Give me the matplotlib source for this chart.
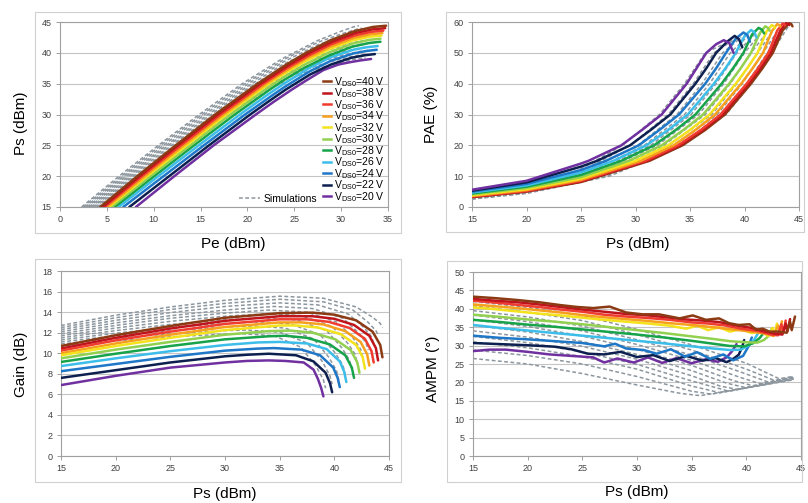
import matplotlib
matplotlib.use('Agg')
import matplotlib.pyplot as plt
from matplotlib.lines import Line2D
from matplotlib.patches import Rectangle

plt.rcParams['font.family'] = ['Liberation Sans', 'DejaVu Sans']
plt.rcParams['mathtext.fontset'] = 'custom'
plt.rcParams['mathtext.rm'] = 'Liberation Sans'

W, H = 808, 503

volts = [40, 38, 36, 34, 32, 30, 28, 26, 24, 22, 20]
colors = ['#8b3a13', '#c0141c', '#ef3b30', '#f6a01e', '#f3e21c', '#92d050',
          '#17a349', '#3dbdea', '#1f77c8', '#0c1f4f', '#7030a0']
sim_color = '#8c969e'

# ---- Gain vs Ps (measured), 40 V -> 20 V ----
gain_ps = [
    [15, 20, 25, 30, 35, 38, 40, 42, 43.5, 44.2, 44.4],
    [15, 20, 25, 30, 35, 38, 40, 41.8, 43.2, 43.8, 44.0],
    [15, 20, 25, 30, 35, 37.5, 39.5, 41.4, 42.8, 43.4, 43.6],
    [15, 20, 25, 30, 35, 37, 39, 41, 42.4, 43.0, 43.2],
    [15, 20, 25, 30, 35, 36.5, 38.5, 40.6, 42.0, 42.6, 42.8],
    [15, 20, 25, 30, 34, 36, 38, 40.1, 41.5, 42.1, 42.3],
    [15, 20, 25, 30, 34, 35.5, 37.5, 39.6, 41.0, 41.6, 41.8],
    [15, 20, 25, 30, 33, 35, 37.5, 39.3, 40.5, 40.9, 41.1],
    [15, 20, 25, 30, 33, 34.5, 37, 38.7, 39.9, 40.3, 40.5],
    [15, 20, 25, 30, 32, 34, 36.5, 38.1, 39.2, 39.6, 39.8],
    [15, 20, 25, 30, 32, 34, 35.5, 37.2, 38.1, 38.5, 38.8, 39.0],
]
gain_db = [
    [10.7, 11.75, 12.65, 13.45, 13.9, 13.95, 13.75, 13.2, 12.1, 10.8, 9.6],
    [10.45, 11.5, 12.4, 13.15, 13.6, 13.6, 13.35, 12.75, 11.7, 10.5, 9.3],
    [10.25, 11.25, 12.1, 12.85, 13.3, 13.3, 13.05, 12.45, 11.4, 10.2, 9.1],
    [10.0, 10.95, 11.8, 12.55, 13.0, 13.0, 12.8, 12.15, 11.1, 9.9, 8.8],
    [9.8, 10.7, 11.5, 12.25, 12.7, 12.7, 12.5, 11.85, 10.8, 9.6, 8.5],
    [9.5, 10.35, 11.1, 11.8, 12.15, 12.2, 12.0, 11.35, 10.3, 9.1, 8.1],
    [9.15, 9.95, 10.7, 11.35, 11.65, 11.7, 11.5, 10.85, 9.8, 8.6, 7.6],
    [8.75, 9.5, 10.2, 10.8, 11.05, 11.1, 10.95, 10.4, 9.2, 8.2, 7.2],
    [8.25, 8.95, 9.65, 10.25, 10.45, 10.5, 10.35, 9.8, 8.6, 7.6, 6.7],
    [7.6, 8.35, 9.1, 9.7, 9.85, 9.95, 9.8, 9.2, 8.1, 7.1, 6.2],
    [6.9, 7.8, 8.6, 9.1, 9.25, 9.3, 9.25, 9.1, 8.4, 7.5, 6.6, 5.8],
]

# ---- Gain vs Ps (simulations) ----
sim_gain_ps = [
    [15, 20, 25, 30, 35, 39, 42, 43.5, 44.2, 44.4],
    [15, 20, 25, 30, 35, 39, 41.7, 43.1, 43.8, 44.0],
    [15, 20, 25, 30, 35, 38.5, 41.3, 42.7, 43.4, 43.6],
    [15, 20, 25, 30, 34.5, 38, 40.8, 42.2, 42.9, 43.1],
    [15, 20, 25, 30, 34, 37.5, 40.3, 41.7, 42.4, 42.6],
    [15, 20, 25, 30, 34, 37, 39.8, 41.2, 41.9, 42.1],
    [15, 20, 25, 30, 33.5, 36.5, 39.3, 40.7, 41.4, 41.6],
    [15, 20, 25, 30, 33, 36, 38.7, 40.1, 40.8, 41.0],
    [15, 20, 25, 30, 32.5, 35.5, 38.1, 39.5, 40.2, 40.4],
    [15, 20, 25, 30, 32, 35, 37.5, 38.9, 39.6, 39.8],
    [15, 20, 25, 30, 31.5, 34.5, 36.9, 38.3, 39.0, 39.2],
]
sim_gain_db = [
    [12.7, 13.7, 14.5, 15.15, 15.55, 15.35, 14.5, 13.5, 12.9, 12.5],
    [12.5, 13.45, 14.25, 14.85, 15.25, 15.0, 14.2, 13.0, 12.2, 11.8],
    [12.3, 13.2, 13.95, 14.55, 14.9, 14.7, 13.8, 12.5, 11.6, 11.0],
    [12.1, 12.95, 13.65, 14.2, 14.55, 14.35, 13.4, 12.0, 11.0, 10.3],
    [11.9, 12.7, 13.4, 13.9, 14.2, 14.0, 13.0, 11.5, 10.4, 9.6],
    [11.7, 12.45, 13.1, 13.6, 13.85, 13.65, 12.6, 11.0, 9.9, 9.0],
    [11.5, 12.2, 12.8, 13.25, 13.45, 13.25, 12.2, 10.5, 9.3, 8.4],
    [11.3, 11.95, 12.5, 12.9, 13.05, 12.85, 11.8, 10.0, 8.8, 7.9],
    [11.1, 11.7, 12.2, 12.55, 12.65, 12.45, 11.4, 9.6, 8.3, 7.4],
    [10.9, 11.45, 11.9, 12.2, 12.25, 12.05, 11.0, 9.2, 7.8, 7.0],
    [10.7, 11.2, 11.6, 11.85, 11.9, 11.7, 10.6, 8.8, 7.4, 6.6],
]

# ---- PAE vs Ps (measured): PAE at fixed Ps, Ps at fixed PAE levels, top hook ----
pae_at15 = [3.2, 3.3, 3.4, 3.6, 3.8, 4.1, 4.4, 4.7, 5.0, 5.3, 5.6]
pae_at20 = [5.0, 5.1, 5.2, 5.5, 5.8, 6.2, 6.6, 7.0, 7.5, 8.0, 8.5]
pae_at25 = [8.1, 8.3, 8.5, 8.8, 9.2, 9.7, 10.4, 11.2, 12.0, 13.1, 14.1]
pae_levels = [15, 20, 25, 30, 40, 45, 50]
ps_at_level = [
    [31.3, 31.1, 30.9, 30.5, 30.0, 29.4, 28.7, 28.0, 27.3, 26.5, 25.7],
    [34.3, 34.1, 33.9, 33.5, 33.0, 32.4, 31.7, 31.0, 30.3, 29.5, 28.7],
    [36.4, 36.2, 36.0, 35.5, 35.0, 34.4, 33.7, 33.0, 32.2, 31.4, 30.6],
    [38.2, 38.0, 37.8, 37.3, 36.8, 36.2, 35.5, 34.8, 34.0, 33.2, 32.4],
    [40.6, 40.4, 40.2, 39.7, 39.2, 38.6, 37.9, 37.2, 36.4, 35.5, 34.7],
    [41.65, 41.45, 41.25, 40.75, 40.25, 39.65, 38.95, 38.25, 37.4, 36.5, 35.6],
    [42.6, 42.4, 42.2, 41.7, 41.2, 40.6, 39.9, 39.2, 38.3, 37.4, 36.5],
]
pre_ps = [43.5, 43.3, 43.0, 42.5, 42.0, 41.4, 40.7, 40.0, 39.2, 38.4, 37.4]
pre_pae = [57.3, 57.3, 57.2, 57.0, 56.8, 56.4, 56.0, 55.4, 54.6, 53.6, 52.8]
peak_ps = [44.1, 43.8, 43.5, 43.0, 42.5, 41.9, 41.3, 40.6, 39.9, 39.1, 38.1]
peak_pae = [59.6, 59.6, 59.5, 59.3, 59.0, 58.6, 58.1, 57.4, 56.6, 55.5, 54.1]
hook_ps = [44.3, 44.0, 43.65, 43.2, 42.7, 42.15, 41.6, 40.9, 40.25, 39.5, 38.6]
hook_pae = [59.3, 59.4, 59.3, 59.0, 58.6, 58.1, 57.5, 56.7, 55.8, 54.4, 53.2]
end_ps = [44.4, 44.1, 43.7, 43.3, 42.8, 42.3, 41.8, 41.1, 40.5, 39.8, 39.0]
end_pae = [58.6, 59.0, 58.9, 58.5, 58.0, 57.2, 56.3, 55.0, 53.6, 51.8, 50.0]

# ---- PAE vs Ps (simulations) ----
sim_pae_at15 = [2.6, 2.6, 2.7, 2.7, 2.8, 2.8, 2.9, 2.9, 3.0, 3.0, 3.1]
sim_pae_at20 = [4.4, 4.5, 4.6, 4.7, 4.8, 4.9, 5.0, 5.1, 5.2, 5.3, 5.4]
sim_levels = [10, 20, 30, 40, 50]
sim_ps_at_level = [
    [27.6, 27.3, 27.0, 26.6, 26.2, 25.8, 25.4, 25.0, 24.6, 24.2, 23.8],
    [34.4, 34.0, 33.6, 33.1, 32.6, 32.0, 31.4, 30.8, 30.2, 29.5, 28.8],
    [38.3, 37.9, 37.5, 37.0, 36.4, 35.8, 35.1, 34.5, 33.8, 33.0, 32.2],
    [40.6, 40.2, 39.8, 39.3, 38.7, 38.1, 37.4, 36.8, 36.1, 35.3, 34.5],
    [42.5, 42.1, 41.7, 41.2, 40.6, 40.0, 39.3, 38.7, 38.0, 37.2, 36.4],
]
sim_top_ps = [44.0, 43.6, 43.2, 42.7, 42.2, 41.6, 41.0, 40.4, 39.7, 38.9, 37.9]
sim_top_pae = [58.5, 58.3, 58.0, 57.6, 57.2, 56.8, 56.3, 55.7, 55.0, 54.0, 52.5]

# ---- AMPM vs Ps (measured) ----
ampm_ps = [
    [15, 17, 19, 21, 23, 24.5, 26, 27.5, 29, 30.5, 32, 33.9, 35.1, 36.3, 37.5, 38.4, 39.3, 40.3, 40.9, 41.5, 42.1, 43.0, 43.7, 44.0, 44.15, 44.45],
    [15, 17, 19, 21, 23, 25, 27, 29, 31, 33, 34.5, 36, 37.5, 39, 40.5, 41.5, 42.5, 43.3, 43.6, 43.75, 44.0],
    [15, 17, 19, 21, 23, 25, 27, 29, 31, 33, 35, 36.5, 38, 39.5, 41, 42.3, 42.9, 43.2, 43.4, 43.6],
    [15, 17, 19, 21, 23, 25, 27, 29, 31, 33, 35, 37, 39, 40.5, 41.8, 42.5, 42.9, 43.1, 43.25],
    [15, 17, 19, 21, 23, 25, 27, 29, 31, 33, 34.5, 35.5, 36.5, 37.5, 38.5, 39.5, 40.5, 41.3, 42.0, 42.4, 42.6, 42.8],
    [15, 17.5, 20, 22.5, 25, 27.5, 30, 32.5, 35, 37, 38.5, 40, 41, 41.6, 42.0, 42.3],
    [15, 17.5, 20, 22.5, 25, 27.5, 30, 32.5, 35, 37, 38.5, 39.8, 40.6, 41.2, 41.8],
    [15, 17.5, 20, 22.5, 25, 27.5, 30, 32.5, 35, 37, 38.5, 39.5, 40.2, 40.7, 41.1],
    [15, 17.5, 20, 22.5, 25, 27, 28, 29, 30.6, 31.8, 33.1, 34.4, 35.5, 36.7, 37.9, 38.8, 39.7, 40.2, 40.5],
    [15, 17.5, 20, 22.5, 24, 25.5, 27, 28.5, 30, 31.5, 33, 34.5, 36, 37.2, 38.2, 38.8, 39.3, 39.6, 39.8],
    [15, 16.5, 18, 20, 22, 24, 26, 27, 28.2, 29.7, 31, 32.3, 33.6, 35, 36.3, 37.4, 38.2, 38.7, 39.1],
]
ampm_deg = [
    [43.3, 42.9, 42.4, 41.8, 41.0, 40.5, 40.2, 40.6, 39.0, 38.5, 38.5, 37.4, 38.2, 37.0, 37.4, 36.1, 35.6, 35.8, 34.3, 34.6, 33.8, 33.8, 33.5, 36.5, 34.2, 37.9],
    [42.7, 42.2, 41.8, 41.2, 40.5, 39.8, 39.2, 38.6, 38.2, 37.6, 37.1, 36.8, 36.4, 35.5, 34.8, 34.0, 33.3, 33.0, 36.0, 33.8, 37.2],
    [42.2, 41.7, 41.1, 40.5, 39.8, 39.2, 38.4, 37.9, 37.5, 37.0, 36.3, 36.0, 35.5, 34.6, 34.0, 33.0, 32.8, 35.8, 33.6, 36.8],
    [41.2, 40.7, 40.2, 39.6, 39.0, 38.3, 37.7, 37.2, 36.7, 36.1, 35.6, 35.0, 34.3, 33.8, 33.2, 32.6, 35.5, 33.4, 36.6],
    [40.4, 39.9, 39.3, 38.7, 38.2, 37.6, 37.0, 36.5, 36.0, 35.4, 34.6, 35.4, 34.2, 35.0, 33.8, 34.5, 33.4, 33.9, 32.6, 34.8, 33.0, 36.0],
    [38.4, 37.8, 37.1, 36.5, 35.8, 35.0, 34.2, 33.4, 32.5, 31.8, 31.2, 30.9, 30.8, 31.5, 32.5, 34.5],
    [37.0, 36.4, 35.7, 35.1, 34.4, 33.7, 33.0, 32.2, 31.3, 30.5, 29.9, 29.8, 30.6, 32.0, 34.2],
    [35.6, 34.8, 34.1, 33.4, 32.7, 32.0, 31.3, 30.6, 29.8, 29.2, 28.8, 28.9, 30.0, 31.5, 33.5],
    [32.7, 32.1, 31.7, 31.2, 30.7, 29.8, 30.5, 29.2, 28.8, 27.8, 29.0, 27.0, 28.2, 26.4, 27.6, 26.0, 27.2, 29.8, 32.2],
    [30.7, 30.4, 30.1, 29.7, 29.0, 27.8, 27.6, 28.3, 26.9, 27.4, 25.8, 27.2, 25.9, 26.6, 25.5, 26.4, 27.5, 29.5, 31.5],
    [28.5, 28.9, 28.9, 28.3, 27.6, 27.2, 26.8, 25.4, 26.5, 25.4, 26.8, 25.3, 26.6, 25.2, 26.3, 25.6, 26.8, 28.5, 30.4],
]

# ---- AMPM vs Ps (simulations) ----
sim_ampm_ps = [
    [15, 20, 25, 30, 35, 40, 43.0, 44.3],
    [15, 20, 25, 30, 35, 40, 42.6, 44.3],
    [15, 20, 25, 30, 35, 39.5, 42.0, 44.3],
    [15, 20, 25, 30, 35, 39.3, 41.3, 44.3],
    [15, 20, 25, 30, 35, 38.8, 40.6, 44.3],
    [15, 20, 25, 30, 35, 38.2, 39.9, 44.3],
    [15, 20, 25, 30, 35, 37.6, 39.2, 44.3],
    [15, 20, 25, 30, 35, 38.4, 44.3],
    [15, 20, 25, 30, 35, 37.6, 44.3],
    [15, 20, 25, 30, 35, 36.8, 44.3],
    [15, 20, 25, 30, 34, 35.8, 44.3],
]
sim_ampm_deg = [
    [42.0, 40.4, 38.2, 34.4, 30.2, 25.2, 21.0, 21.6],
    [40.8, 39.1, 36.8, 33.0, 28.8, 23.6, 20.5, 21.5],
    [39.5, 37.8, 35.3, 31.6, 27.4, 22.8, 20.1, 21.5],
    [38.3, 36.5, 34.0, 30.3, 26.0, 21.5, 19.6, 21.4],
    [37.0, 35.2, 32.6, 29.0, 24.6, 20.5, 19.1, 21.3],
    [35.5, 33.7, 31.1, 27.6, 23.2, 19.8, 18.6, 21.2],
    [34.0, 32.3, 29.8, 26.3, 21.8, 19.0, 18.1, 21.1],
    [32.5, 30.8, 28.3, 24.9, 20.4, 17.6, 21.0],
    [31.0, 29.4, 27.0, 23.6, 19.0, 17.2, 20.9],
    [28.8, 27.3, 25.0, 21.6, 17.6, 16.8, 20.8],
    [26.5, 25.0, 22.4, 19.3, 17.0, 16.4, 20.7],
]


def box(x0, y0, x1, y1):
    return [x0 / W, 1 - y1 / H, (x1 - x0) / W, (y1 - y0) / H]


def style(ax, xlim, xstep, ylim, ystep):
    ax.set_xlim(*xlim)
    ax.set_ylim(*ylim)
    ax.set_xticks(range(xlim[0], xlim[1] + 1, xstep))
    ax.set_yticks(range(ylim[0], ylim[1] + 1, ystep))
    ax.yaxis.grid(True, color='#c4c4c4', lw=0.8)
    ax.set_axisbelow(True)
    for s in ax.spines.values():
        s.set_color('#a0a0a0')
        s.set_linewidth(0.8)
    ax.tick_params(labelsize=6.5, labelcolor='#404040', color='#909090',
                   length=3, width=0.6, pad=3)


def sim_line(ax, x, y):
    ax.plot(x, y, color=sim_color, lw=1.1, dashes=(2.5, 1.6), zorder=2)


def meas_line(ax, x, y, c):
    ax.plot(x, y, color=c, lw=1.8, zorder=3, solid_capstyle='round')


fig = plt.figure(figsize=(W / 100, H / 100), dpi=100)

# chart-area frames
for b in [box(35, 12, 401, 233), box(446, 12, 804, 232),
          box(35, 259, 401, 482), box(447, 261, 802, 482)]:
    fig.add_artist(Rectangle((b[0], b[1]), b[2], b[3], transform=fig.transFigure,
                             fill=False, ec='#d0d0d0', lw=0.8))

ax1 = fig.add_axes(box(60, 22, 388, 207))
ax2 = fig.add_axes(box(472, 22, 799, 207))
ax3 = fig.add_axes(box(61, 271, 389, 456))
ax4 = fig.add_axes(box(473, 272, 801, 456))

# panel 1: Ps vs Pe, with Pe = Ps - Gain from the gain readings
for xs, gs in zip(sim_gain_ps, sim_gain_db):
    sim_line(ax1, [p - g for p, g in zip(xs, gs)], xs)
for i in range(len(volts) - 1, -1, -1):
    xs, gs = gain_ps[i], gain_db[i]
    meas_line(ax1, [p - g for p, g in zip(xs, gs)], xs, colors[i])
style(ax1, (0, 35), 5, (15, 45), 5)

h_v = [Line2D([], [], color=c, lw=1.8) for c in colors]
l_v = [r'V$_{\mathrm{DS0}}$=%d V' % v for v in volts]
leg1 = ax1.legend(h_v, l_v, loc='lower right', bbox_to_anchor=(1.0, 0.0),
                  frameon=False, fontsize=7.5, handlelength=0.8, handletextpad=0.3,
                  labelspacing=-0.22, borderpad=0.2, borderaxespad=0.1)
ax1.add_artist(leg1)
ax1.legend([Line2D([], [], color=sim_color, lw=1.1, dashes=(2.5, 1.6))], ['Simulations'],
           loc='lower right', bbox_to_anchor=(0.795, 0.0), frameon=False, fontsize=7.5,
           handlelength=2.0, handletextpad=0.4, borderpad=0.2, borderaxespad=0.1)

# panel 2: PAE vs Ps
for i in range(len(volts)):
    pts = [(15, sim_pae_at15[i]), (20, sim_pae_at20[i])]
    pts += [(sim_ps_at_level[k][i], lv) for k, lv in enumerate(sim_levels)]
    pts += [(sim_top_ps[i], sim_top_pae[i])]
    pts.sort()
    sim_line(ax2, [p[0] for p in pts], [p[1] for p in pts])
for i in range(len(volts)):
    pts = [(15, pae_at15[i]), (20, pae_at20[i]), (25, pae_at25[i])]
    pts += [(ps_at_level[k][i], lv) for k, lv in enumerate(pae_levels)]
    pts += [(pre_ps[i], pre_pae[i]), (peak_ps[i], peak_pae[i]),
            (hook_ps[i], hook_pae[i]), (end_ps[i], end_pae[i])]
    pts.sort()
    meas_line(ax2, [p[0] for p in pts], [p[1] for p in pts], colors[i])
style(ax2, (15, 45), 5, (0, 60), 10)

# panel 3: Gain vs Ps
for xs, gs in zip(sim_gain_ps, sim_gain_db):
    sim_line(ax3, xs, gs)
for i in range(len(volts)):
    meas_line(ax3, gain_ps[i], gain_db[i], colors[i])
style(ax3, (15, 45), 5, (0, 18), 2)

# panel 4: AMPM vs Ps
for xs, ds in zip(sim_ampm_ps, sim_ampm_deg):
    sim_line(ax4, xs, ds)
for i in range(len(volts) - 1, -1, -1):
    meas_line(ax4, ampm_ps[i], ampm_deg[i], colors[i])
style(ax4, (15, 45), 5, (0, 50), 5)

# axis titles
lab = dict(fontsize=11, ha='center', va='center')
fig.text(233 / W, 1 - 244 / H, 'Pe (dBm)', **lab)
fig.text(638 / W, 1 - 244 / H, 'Ps (dBm)', **lab)
fig.text(225 / W, 1 - 494 / H, 'Ps (dBm)', **lab)
fig.text(637 / W, 1 - 492 / H, 'Ps (dBm)', **lab)
fig.text(21 / W, 1 - 123 / H, 'Ps (dBm)', rotation=90, **lab)
fig.text(431 / W, 1 - 114 / H, 'PAE (%)', rotation=90, **lab)
fig.text(21 / W, 1 - 364 / H, 'Gain (dB)', rotation=90, **lab)
fig.text(433 / W, 1 - 369 / H, 'AMPM (°)', rotation=90, **lab)

fig.savefig('out.png', dpi=100, facecolor='white')
